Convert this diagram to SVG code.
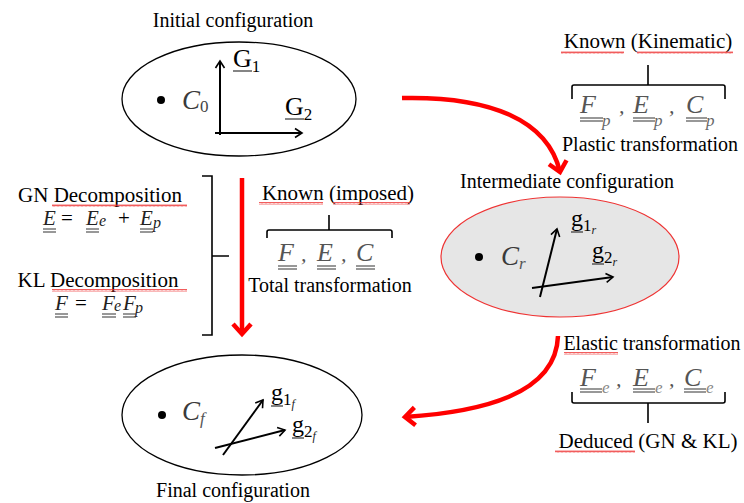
<svg xmlns="http://www.w3.org/2000/svg" width="744" height="503" viewBox="0 0 744 503">
<style>
text{font-family:"Liberation Serif","Times New Roman",serif;fill:#000}
.lbl{font-size:20px;text-anchor:middle}
.big{font-size:21px;text-anchor:middle}
.mi{font-style:italic;font-size:26px;fill:#555}
.mb{font-style:italic;font-size:21px;fill:#222}
.sub{font-size:17px}
.subi{font-style:italic;font-size:17px;fill:#666}
.ss{font-style:italic;font-size:12px;fill:#222}
.g{font-size:26px}
.gg{font-size:24px}
.cm{font-style:italic;font-size:27px;fill:#3a3a3a}
.cma{font-size:22px;fill:#555}
.ell{stroke:#000;stroke-width:1.3;fill:#fff}
.ax{stroke:#000;stroke-width:2;fill:none;marker-end:url(#ah)}
.br{stroke:#000;stroke-width:1.6;fill:none}
.ul{stroke:#333;stroke-width:1.2;fill:none}
.red{stroke:#f00;stroke-width:4.5;fill:none;marker-end:url(#rh)}
</style>
<defs>
<marker id="ah" markerUnits="userSpaceOnUse" viewBox="-10 -8 12 16" markerWidth="12" markerHeight="16" refX="0" refY="0" orient="auto" overflow="visible">
<path d="M-7,-4.5 L0,0 L-7,4.5" stroke="#000" stroke-width="1.6" fill="none"/>
</marker>
<marker id="rh" markerUnits="userSpaceOnUse" viewBox="-14 -12 18 24" markerWidth="18" markerHeight="24" refX="0" refY="0" orient="auto" overflow="visible">
<path d="M-10,-9 L0,0 L-10,9" stroke="#f00" stroke-width="4.5" fill="none"/>
</marker>
<pattern id="sq" width="4" height="3" patternUnits="userSpaceOnUse">
<path d="M0,2.5 L1,0.5 L2,2.5 L3,0.5 L4,2.5" stroke="#e33" stroke-width="0.8" fill="none"/>
</pattern>
</defs>

<g id="connectors">
<path class="red" d="M402,98 C490,96 548,120 560,172"/>
<path class="red" d="M242,178 L242,334"/>
<path class="red" d="M558,336 C556,395 480,412 405,417"/>
</g>

<g id="initial">
<text class="lbl" x="233" y="27">Initial configuration</text>
<ellipse class="ell" cx="239" cy="99" rx="117" ry="57"/>
<circle cx="161" cy="100" r="4"/>
<text x="182" y="109" class="cm">C<tspan class="sub" dy="3" style="font-style:normal;fill:#444">0</tspan></text>
<path class="ax" d="M220,135 L220,61"/>
<path class="ax" d="M215,133 L302,133"/>
<text x="233" y="67" class="g">G<tspan class="sub" dy="5">1</tspan></text>
<line class="ul" x1="233" y1="71" x2="252" y2="71"/>
<text x="285" y="115" class="g">G<tspan class="sub" dy="5">2</tspan></text>
<line class="ul" x1="285" y1="119" x2="304" y2="119"/>
</g>

<g id="intermediate">
<text class="lbl" x="567" y="188">Intermediate configuration</text>
<ellipse cx="560" cy="257" rx="119" ry="60" fill="#e6e6e6" stroke="#e33" stroke-width="1.2"/>
<circle cx="479" cy="257" r="4"/>
<text x="501" y="265" class="cm">C<tspan class="subi" dy="4" style="fill:#555">r</tspan></text>
<path class="ax" d="M540,297 L557,229"/>
<path class="ax" d="M532,288 L613,277"/>
<text x="571" y="226" class="gg">g<tspan class="sub" dy="5">1</tspan><tspan class="ss" dy="3">r</tspan></text>
<line class="ul" x1="571" y1="232" x2="583" y2="232"/>
<text x="592" y="258" class="gg">g<tspan class="sub" dy="5">2</tspan><tspan class="ss" dy="3">r</tspan></text>
<line class="ul" x1="592" y1="264" x2="604" y2="264"/>
</g>

<g id="final">
<ellipse class="ell" cx="242" cy="415" rx="120" ry="60"/>
<circle cx="162" cy="415" r="4"/>
<text x="182" y="420" class="cm">C<tspan class="subi" dy="4" style="fill:#555">f</tspan></text>
<path class="ax" d="M223,455 L263,400"/>
<path class="ax" d="M215,448 L285,430"/>
<text x="271" y="400" class="gg">g<tspan class="sub" dy="5">1</tspan><tspan class="ss" dy="3">f</tspan></text>
<line class="ul" x1="271" y1="406" x2="283" y2="406"/>
<text x="292" y="432" class="gg">g<tspan class="sub" dy="5">2</tspan><tspan class="ss" dy="3">f</tspan></text>
<line class="ul" x1="292" y1="438" x2="304" y2="438"/>
<text class="lbl" x="233" y="497">Final configuration</text>
</g>

<g id="plastic">
<text class="big" x="648" y="48">Known (Kinematic)</text>
<rect x="561" y="51" width="63" height="3" fill="url(#sq)"/>
<rect x="637" y="51" width="96" height="3" fill="url(#sq)"/>
<path class="br" d="M572,99 L572,87 Q572,85 574,85 L723,85 Q725,85 725,87 L725,99 M648,85 L648,65"/>
<text y="113" class="mi"><tspan x="580">F</tspan><tspan x="602" dy="13" class="subi">p</tspan><tspan x="619" dy="-13" class="cma">,</tspan><tspan x="633">E</tspan><tspan x="654" dy="13" class="subi">p</tspan><tspan x="669" dy="-13" class="cma">,</tspan><tspan x="686">C</tspan><tspan x="706" dy="13" class="subi">p</tspan></text>
<path class="ul" d="M580,118 H603 M580,121 H603 M633,118 H655 M633,121 H655 M686,118 H707 M686,121 H707"/>
<text class="lbl" x="650" y="151">Plastic transformation</text>
</g>

<g id="total">
<text class="big" x="338" y="200">Known (imposed)</text>
<rect x="259" y="202" width="64" height="3" fill="url(#sq)"/>
<rect x="333" y="202" width="77" height="3" fill="url(#sq)"/>
<path class="br" d="M267,238 L267,232 Q267,230 269,230 L390,230 Q392,230 392,232 L392,238 M329,230 L329,215"/>
<text y="261" class="mi"><tspan x="278">F</tspan><tspan x="301" class="cma">,</tspan><tspan x="317">E</tspan><tspan x="341" class="cma">,</tspan><tspan x="356">C</tspan></text>
<path class="ul" d="M278,266 H297 M278,269 H297 M317,266 H336 M317,269 H336 M356,266 H375 M356,269 H375"/>
<text class="lbl" x="330" y="292">Total transformation</text>
</g>

<g id="elastic">
<text class="lbl" x="652" y="350">Elastic transformation</text>
<rect x="564" y="352" width="54" height="3" fill="url(#sq)"/>
<text y="386" class="mi"><tspan x="580">F</tspan><tspan x="602" dy="7" class="subi" style="fill:#888">e</tspan><tspan x="616" dy="-7" class="cma">,</tspan><tspan x="633">E</tspan><tspan x="655" dy="7" class="subi" style="fill:#888">e</tspan><tspan x="669" dy="-7" class="cma">,</tspan><tspan x="684">C</tspan><tspan x="706" dy="7" class="subi" style="fill:#888">e</tspan></text>
<path class="ul" d="M580,389 H602 M580,392 H602 M633,389 H655 M633,392 H655 M684,389 H706 M684,392 H706"/>
<path class="br" d="M572,392 L572,401 Q572,403 574,403 L723,403 Q725,403 725,401 L725,392 M648,403 L648,423"/>
<text class="big" x="648" y="448">Deduced (GN &amp; KL)</text>
<rect x="555" y="450" width="80" height="3" fill="url(#sq)"/>
</g>

<g id="decomposition">
<text class="big" x="100" y="202">GN Decomposition</text>
<rect x="52" y="204" width="135" height="3" fill="url(#sq)"/>
<text y="225" class="mb"><tspan x="43">E</tspan><tspan x="61" style="font-style:normal;fill:#000">=</tspan><tspan x="86">E</tspan><tspan x="99" dy="1" class="ss" style="font-size:16px">e</tspan><tspan x="118" dy="-1" style="font-style:normal;fill:#000">+</tspan><tspan x="140">E</tspan><tspan x="153" dy="3" class="ss" style="font-size:16px">p</tspan></text>
<path class="ul" d="M43,229 H56 M43,232 H56 M86,229 H99 M86,232 H99 M140,229 H153 M140,232 H153"/>
<text class="big" x="98" y="287">KL Decomposition</text>
<rect x="52" y="289" width="135" height="3" fill="url(#sq)"/>
<text y="310" class="mb"><tspan x="55">F</tspan><tspan x="75" style="font-style:normal;fill:#000">=</tspan><tspan x="102">F</tspan><tspan x="114" dy="1" class="ss" style="font-size:16px">e</tspan><tspan x="123" dy="-1">F</tspan><tspan x="135" dy="3" class="ss" style="font-size:16px">p</tspan></text>
<path class="ul" d="M55,314 H68 M55,317 H68 M102,314 H116 M102,317 H116 M123,314 H136 M123,317 H136"/>
<path class="br" d="M202,176 L212,176 L212,335 L202,335 M212,256 L229,256"/>
</g>
</svg>
